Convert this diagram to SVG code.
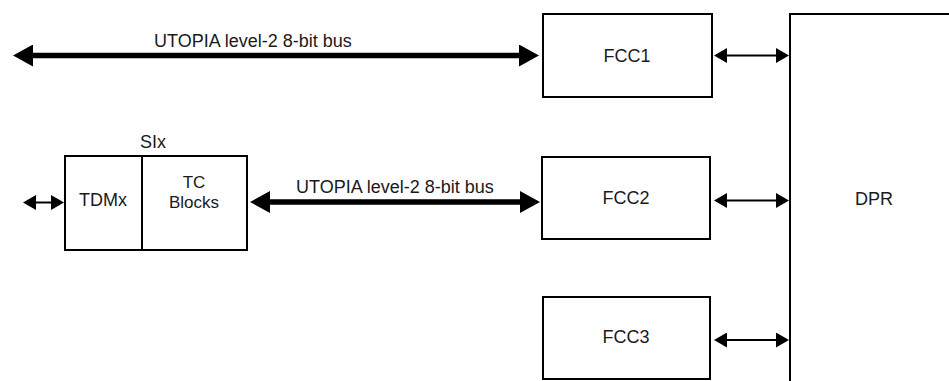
<svg xmlns="http://www.w3.org/2000/svg" width="949" height="381" viewBox="0 0 949 381">
  <style>
    .box { fill: #ffffff; stroke: #000000; stroke-width: 2; }
    .lbl { font-family: "Liberation Sans", Arial, Helvetica, sans-serif; font-size: 18px; fill: #1a1a1a; text-anchor: middle; }
    .tight { font-size: 17px; }
    .bus { stroke: #000000; stroke-width: 5.5; fill: none; }
    .link { stroke: #000000; stroke-width: 2; fill: none; }
  </style>
  <defs>
    <marker id="busHead" markerUnits="userSpaceOnUse" markerWidth="20" markerHeight="22" refX="0" refY="11" orient="auto-start-reverse">
      <path d="M0,0 L20,11 L0,22 z" fill="#000000"/>
    </marker>
    <marker id="linkHead" markerUnits="userSpaceOnUse" markerWidth="13" markerHeight="15" refX="0" refY="7.5" orient="auto-start-reverse">
      <path d="M0,0 L13,7.5 L0,15 z" fill="#000000"/>
    </marker>
  </defs>

  <rect width="949" height="381" fill="#ffffff"/>

  <g id="dpr">
    <path class="box" d="M952,14 L790,14 L790,384"/>
    <text class="lbl" x="874" y="205">DPR</text>
  </g>

  <g id="fcc1">
    <rect class="box" x="543" y="14" width="169" height="83"/>
    <text class="lbl" x="627" y="61.5">FCC1</text>
  </g>

  <g id="fcc2">
    <rect class="box" x="542" y="157" width="168" height="82"/>
    <text class="lbl" x="626" y="204">FCC2</text>
  </g>

  <g id="fcc3">
    <rect class="box" x="543" y="297" width="167" height="82"/>
    <text class="lbl" x="626" y="343">FCC3</text>
  </g>

  <g id="six">
    <text class="lbl" x="153" y="148">SIx</text>
    <g id="tdmx">
      <rect class="box" x="65" y="156" width="77" height="94"/>
      <text class="lbl" x="103" y="206">TDMx</text>
    </g>
    <g id="tc-blocks">
      <rect class="box" x="142" y="156" width="105" height="94"/>
      <text class="lbl tight" x="194" y="188">TC</text>
      <text class="lbl tight" x="194" y="208">Blocks</text>
    </g>
  </g>

  <g id="connectors">
    <line class="bus" x1="33" y1="55.5" x2="519" y2="55.5" marker-start="url(#busHead)" marker-end="url(#busHead)"/>
    <text class="lbl" x="253" y="47">UTOPIA level-2 8-bit bus</text>

    <line class="bus" x1="270" y1="202" x2="520" y2="202" marker-start="url(#busHead)" marker-end="url(#busHead)"/>
    <text class="lbl" x="395" y="193">UTOPIA level-2 8-bit bus</text>

    <line class="link" x1="36" y1="202.5" x2="51" y2="202.5" marker-start="url(#linkHead)" marker-end="url(#linkHead)"/>

    <line class="link" x1="727" y1="55.5" x2="776" y2="55.5" marker-start="url(#linkHead)" marker-end="url(#linkHead)"/>
    <line class="link" x1="727" y1="200.5" x2="776" y2="200.5" marker-start="url(#linkHead)" marker-end="url(#linkHead)"/>
    <line class="link" x1="727" y1="340" x2="776" y2="340" marker-start="url(#linkHead)" marker-end="url(#linkHead)"/>
  </g>
</svg>
